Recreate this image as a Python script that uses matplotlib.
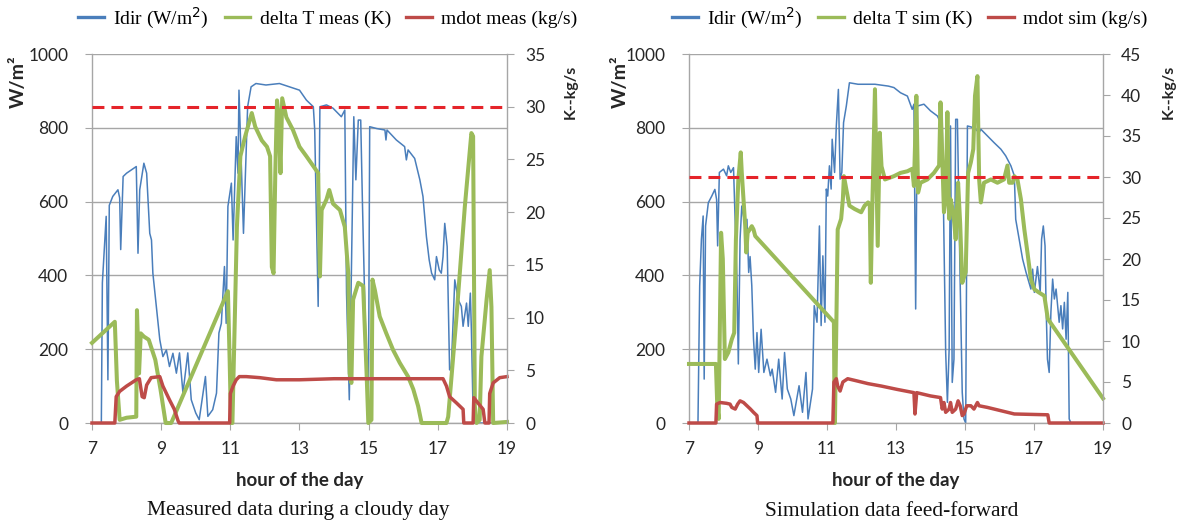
import matplotlib
matplotlib.use('Agg')
import matplotlib.pyplot as plt
from matplotlib.lines import Line2D

# ---- measured (left panel) ----
meas_idir_h = [7.0, 7.27, 7.3, 7.41, 7.46, 7.5, 7.6, 7.75, 7.8, 7.83, 7.9, 8.0, 8.14, 8.28, 8.33, 8.38, 8.5,
               8.58, 8.67, 8.72, 8.76, 8.86, 8.96, 9.05, 9.15, 9.24, 9.34, 9.44, 9.53, 9.63, 9.77, 9.87, 10.0,
               10.1, 10.28, 10.35, 10.49, 10.6, 10.67, 10.74, 10.83, 10.88, 10.93, 11.03, 11.08, 11.17, 11.22,
               11.25, 11.38, 11.5, 11.6, 11.74, 12.03, 12.42, 12.71, 13.0, 13.2, 13.4, 13.44, 13.54, 13.59,
               13.78, 13.97, 14.21, 14.31, 14.36, 14.44, 14.5, 14.57, 14.63, 14.7, 14.77, 14.82, 14.89, 14.99,
               15.03, 15.23, 15.47, 15.5, 15.53, 15.8, 16.04, 16.09, 16.14, 16.33, 16.48, 16.57, 16.67, 16.75,
               16.82, 16.91, 16.96, 17.04, 17.1, 17.15, 17.2, 17.27, 17.34, 17.39, 17.49, 17.59, 17.68, 17.73,
               17.83, 17.88, 17.94, 17.97, 18.02, 18.12, 19.0]
meas_idir_w = [0, 0, 380, 560, 117, 590, 614, 632, 610, 470, 668, 677, 686, 695, 460, 632, 704,
               677, 514, 496, 406, 316, 226, 180, 198, 153, 189, 135, 190, 81, 190, 63, 27,
               9, 126, 18, 36, 81, 244, 270, 424, 270, 587, 650, 496, 776, 677,
               902, 514, 857, 911, 920, 916, 920, 911, 902, 875, 857, 794, 316, 857,
               862, 853, 830, 848, 352, 63, 406, 830, 659, 821, 821, 596, 316, 0,
               803, 798, 794, 767, 794, 767, 749, 713, 740, 717, 659, 614, 505, 442,
               406, 388, 451, 415, 406, 451, 541, 478, 144, 153, 388, 334, 316, 262,
               325, 262, 352, 253, 27, 0, 0]

meas_dt_h = [7.0, 7.66, 7.72, 7.8, 8.0, 8.28, 8.3, 8.36, 8.41, 8.5, 8.64, 8.83, 8.98, 9.13, 9.29, 10.93,
             10.98, 11.02, 11.06, 11.19, 11.29, 11.43, 11.62, 11.72, 11.91, 12.06, 12.15, 12.2, 12.25, 12.3,
             12.35, 12.4, 12.45, 12.5, 12.62, 12.81, 13.0, 13.2, 13.54, 13.59, 13.64, 13.78, 13.86, 13.97,
             14.17, 14.31, 14.41, 14.45, 14.5, 14.55, 14.7, 14.84, 14.94, 14.99, 15.08, 15.11, 15.18, 15.32,
             15.51, 15.71, 15.9, 16.14, 16.29, 16.43, 16.53, 17.25, 17.3, 17.54, 17.78, 17.97, 18.02, 18.07,
             18.12, 18.21, 18.26, 18.41, 18.5, 18.55, 18.6, 19.0]
meas_dt_k = [7.6, 9.6, 4.0, 0.3, 0.5, 0.6, 10.7, 4.7, 8.5, 8.2, 7.9, 6.0, 3.2, 0, 0, 12.5,
             6.0, 0, 0, 18.6, 25.3, 27.2, 29.4, 28.1, 26.8, 26.2, 25.3, 14.8, 14.2, 23.7,
             30.6, 29.0, 23.7, 30.8, 29.0, 27.8, 26.2, 25.3, 23.7, 13.9, 20.2, 21.2, 22.1, 20.8,
             20.2, 18.6, 14.2, 4.7, 3.8, 11.7, 13.3, 13.0, 4.7, 0, 0.3, 13.6, 12.6, 10.1,
             8.5, 6.9, 5.7, 4.4, 3.2, 1.6, 0, 0, 0.6, 10.1, 20.5, 27.5, 27.2, 1.6,
             0, 0.3, 6.3, 11.7, 14.5, 11.0, 0, 0.1]

meas_mdot_h = [7.0, 7.66, 7.7, 7.8, 8.0, 8.28, 8.37, 8.45, 8.51, 8.58, 8.71, 8.96, 9.05, 9.24, 9.38, 9.49,
               9.52, 10.98, 11.0, 11.08, 11.17, 11.26, 11.46, 11.85, 12.33, 13.0, 14.0, 15.0, 16.0, 17.15,
               17.25, 17.34, 17.54, 17.73, 17.75, 18.02, 18.04, 18.16, 18.31, 18.36, 18.48, 18.5, 18.6,
               18.79, 19.0]
meas_mdot_v = [0, 0, 2.5, 3.0, 3.5, 4.1, 4.2, 2.5, 2.4, 3.6, 4.3, 4.4, 3.5, 2.2, 1.3, 0.2,
               0, 0, 2.8, 3.5, 4.1, 4.4, 4.4, 4.3, 4.1, 4.1, 4.2, 4.2, 4.2, 4.2,
               3.5, 2.5, 1.9, 1.3, 0, 0, 2.4, 1.9, 1.3, 0, 0, 2.8, 3.8,
               4.3, 4.4]

# ---- simulation (right panel) ----
sim_idir_h = [7.0, 7.26, 7.31, 7.36, 7.41, 7.44, 7.48, 7.56, 7.66, 7.75, 7.8, 7.83, 7.88, 8.0, 8.09, 8.14,
              8.21, 8.29, 8.39, 8.43, 8.48, 8.53, 8.63, 8.68, 8.73, 8.77, 8.82, 8.87, 8.92, 8.97, 9.02,
              9.09, 9.17, 9.26, 9.36, 9.41, 9.51, 9.6, 9.7, 9.77, 9.85, 9.95, 10.04, 10.19, 10.29, 10.39,
              10.45, 10.58, 10.63, 10.71, 10.78, 10.83, 10.88, 10.94, 10.98, 11.02, 11.07, 11.12, 11.15,
              11.22, 11.27, 11.33, 11.38, 11.43, 11.48, 11.56, 11.65, 11.9, 12.39, 12.78, 12.94, 13.13,
              13.33, 13.47, 13.52, 13.57, 13.62, 13.81, 14.0, 14.2, 14.34, 14.44, 14.49, 14.54, 14.58,
              14.63, 14.68, 14.73, 14.78, 14.86, 14.92, 14.97, 15.02, 15.07, 15.26, 15.41, 15.46, 15.65,
              15.84, 16.04, 16.18, 16.33, 16.43, 16.47, 16.57, 16.67, 16.77, 16.91, 16.96, 17.01, 17.1,
              17.18, 17.22, 17.27, 17.32, 17.35, 17.39, 17.44, 17.49, 17.54, 17.59, 17.64, 17.73, 17.78,
              17.83, 17.88, 17.93, 17.98, 18.02, 18.07, 19.0]
sim_idir_w = [0, 0, 372, 498, 561, 119, 534, 597, 615, 633, 606, 480, 679, 688, 670, 697,
              679, 692, 390, 160, 498, 588, 534, 552, 408, 451, 372, 227, 146, 245, 137,
              254, 137, 173, 128, 146, 83, 173, 65, 191, 92, 65, 20, 101, 29, 137,
              11, 92, 318, 273, 534, 264, 453, 273, 634, 615, 697, 634, 769,
              679, 805, 904, 661, 679, 814, 859, 922, 918, 918, 913, 909, 895,
              886, 850, 864, 309, 859, 864, 846, 832, 805, 191, 56, 200, 805,
              110, 173, 823, 823, 381, 83, 11, 0, 805, 800, 787, 796, 778,
              760, 742, 724, 697, 670, 552, 498, 444, 408, 363, 417, 354, 424,
              354, 498, 534, 480, 318, 173, 137, 300, 390, 336, 363, 273, 318,
              255, 327, 227, 354, 11, 0, 0]

sim_dt_h = [7.0, 7.78, 7.82, 7.86, 7.93, 7.98, 8.04, 8.14, 8.24, 8.31, 8.36, 8.43, 8.5, 8.53, 8.63, 8.66,
            8.7, 8.82, 8.87, 8.92, 11.2, 11.22, 11.23, 11.31, 11.41, 11.46, 11.49, 11.56, 11.65, 11.8,
            11.99, 12.09, 12.19, 12.24, 12.27, 12.31, 12.39, 12.47, 12.53, 12.58, 12.68, 12.94, 13.13,
            13.33, 13.47, 13.52, 13.59, 13.64, 13.71, 13.91, 14.1, 14.25, 14.29, 14.34, 14.39, 14.44,
            14.49, 14.54, 14.58, 14.66, 14.73, 14.8, 14.86, 14.92, 15.02, 15.09, 15.17, 15.24, 15.29,
            15.36, 15.41, 15.46, 15.55, 15.75, 15.94, 16.13, 16.23, 16.28, 16.38, 16.43, 16.52, 16.62,
            16.72, 16.81, 16.91, 17.01, 17.15, 17.3, 17.4, 19.0]
sim_dt_k = [7.2, 7.2, 2.0, 0.5, 23.2, 20.0, 7.8, 8.6, 10.2, 11.0, 22.4, 29.7, 33.0, 30.5, 24.0, 20.8,
            23.2, 24.0, 23.6, 22.8, 12.3, 0, 0, 23.6, 24.9, 27.3, 30.1, 28.5, 26.5, 26.1,
            25.7, 26.5, 26.9, 26.7, 17.1, 25.7, 40.7, 21.6, 35.4, 31.3, 29.7, 30.1, 30.5,
            30.7, 31.0, 28.9, 39.9, 28.1, 29.3, 29.7, 30.5, 31.4, 39.1, 32.6, 25.7, 27.3,
            37.9, 24.9, 27.3, 25.7, 22.4, 29.3, 24.3, 17.1, 18.4, 30.5, 31.8, 33.4, 39.9,
            42.3, 29.7, 26.9, 29.3, 29.7, 29.3, 29.7, 31.4, 29.3, 29.3, 30.1, 29.7, 27.3,
            23.6, 20.8, 17.5, 16.3, 15.9, 15.5, 12.7, 3.0]

sim_mdot_h = [7.0, 7.78, 7.8, 7.9, 8.09, 8.19, 8.24, 8.34, 8.41, 8.48, 8.58, 8.68, 8.78, 8.87, 8.97, 8.99,
              11.17, 11.2, 11.27, 11.31, 11.38, 11.46, 11.6, 11.8, 12.19, 12.58, 13.03, 13.52, 13.55,
              13.6, 14.0, 14.29, 14.34, 14.39, 14.44, 14.54, 14.58, 14.63, 14.73, 14.8, 14.86, 14.92,
              14.97, 15.05, 15.17, 15.26, 15.36, 15.41, 15.65, 16.04, 16.43, 17.4, 17.44, 19.0]
sim_mdot_v = [0, 0, 2.3, 2.5, 2.4, 2.3, 1.9, 1.7, 2.3, 2.7, 2.5, 2.1, 1.7, 1.3, 0.9, 0,
              0, 5.0, 5.4, 4.5, 3.9, 5.0, 5.4, 5.2, 4.8, 4.5, 4.1, 3.7, 1.1,
              3.7, 3.3, 3.1, 1.7, 2.5, 1.3, 1.7, 2.5, 1.3, 1.7, 2.7, 2.1, 0.9,
              1.1, 2.1, 2.1, 1.7, 2.5, 2.1, 1.9, 1.5, 1.1, 1.0, 0, 0]

target_k = 30
hour_ticks = [7, 9, 11, 13, 15, 17, 19]

BLUE = '#4a7ebb'
GREEN = '#9bbb59'
RED = '#be4b48'
DASH = '#e5242a'
GRID = '#a6a6a6'
TXT = '#262626'

plt.rcParams['font.family'] = ['Lato', 'DejaVu Sans']


def draw_panel(fig, rect, idir_h, idir_w, dt_h, dt_k, md_h, md_v, kmax, legend_names, caption,
               legend_x, cap_x, left_lab_x, right_lab_x):
    ax = fig.add_axes(rect)
    ax2 = ax.twinx()

    ax.plot(idir_h, idir_w, color=BLUE, lw=1.1)
    ax2.plot(dt_h, dt_k, color=GREEN, lw=2.9, solid_joinstyle='round', clip_on=False)
    ax2.plot(md_h, md_v, color=RED, lw=2.5, solid_joinstyle='round', clip_on=False)
    ax2.plot([7, 19], [target_k, target_k], color=DASH, lw=2.2, linestyle=(0, (3.9, 2.3)))

    ax.set_xlim(7, 19)
    ax.set_ylim(0, 1000)
    ax2.set_ylim(0, kmax)
    ax.set_xticks(hour_ticks)
    ax.set_yticks(range(0, 1001, 200))
    ax2.set_yticks(range(0, kmax + 1, 5))
    ax.grid(axis='y', color=GRID, lw=1.0)
    ax.set_axisbelow(True)

    for a in (ax, ax2):
        for s in a.spines.values():
            s.set_visible(False)
    ax.spines['left'].set_visible(True)
    ax.spines['bottom'].set_visible(True)
    ax2.spines['right'].set_visible(True)
    for s in (ax.spines['left'], ax.spines['bottom'], ax2.spines['right']):
        s.set_color(GRID)
        s.set_linewidth(1.0)

    ax.tick_params(axis='x', direction='out', length=5, color=GRID, pad=8, labelsize=12.5, labelcolor=TXT)
    ax.tick_params(axis='y', direction='out', length=5, color=GRID, pad=12, labelsize=12.5, labelcolor=TXT)
    ax2.tick_params(axis='y', direction='out', length=5, color=GRID, pad=8, labelsize=12.5, labelcolor=TXT)

    ax.set_xlabel('hour of the day', fontsize=13.5, fontweight='bold', color=TXT, va='center')
    ax.xaxis.set_label_coords(0.5, -0.157)
    ax.set_ylabel('W/m²', fontsize=14, fontweight='bold', color=TXT)
    ax.yaxis.set_label_coords(left_lab_x, 0.924)
    ax2.set_ylabel('K--kg/s', fontsize=11.5, fontweight='bold', color=TXT, rotation=90)
    ax2.yaxis.set_label_coords(right_lab_x, 0.897)

    handles = [Line2D([], [], color=BLUE, lw=2.4),
               Line2D([], [], color=GREEN, lw=2.4),
               Line2D([], [], color=RED, lw=2.4)]
    fig.legend(handles, legend_names, loc='center', bbox_to_anchor=(legend_x, 1 - 18 / 526), ncol=3,
               frameon=False, prop={'family': 'Liberation Serif', 'size': 14}, handlelength=1.3,
               handletextpad=0.5, columnspacing=0.8, borderpad=0, borderaxespad=0)
    fig.text(cap_x, 1 - 511 / 526, caption, ha='center', va='center', family='Liberation Serif',
             fontsize=15.5, color='#111111')
    return ax


def main():
    fig = plt.figure(figsize=(11.91, 5.26), dpi=100)
    draw_panel(fig, [92 / 1191, 103 / 526, 415 / 1191, 369 / 526],
               meas_idir_h, meas_idir_w, meas_dt_h, meas_dt_k, meas_mdot_h, meas_mdot_v, 35,
               ['Idir (W/m$^2$)', 'delta T meas (K)', 'mdot meas (kg/s)'],
               'Measured data during a cloudy day', 328 / 1191, 298 / 1191, -0.157, 1.137)
    draw_panel(fig, [689 / 1191, 103 / 526, 414 / 1191, 369 / 526],
               sim_idir_h, sim_idir_w, sim_dt_h, sim_dt_k, sim_mdot_h, sim_mdot_v, 45,
               ['Idir (W/m$^2$)', 'delta T sim (K)', 'mdot sim (kg/s)'],
               'Simulation data feed-forward', 910 / 1191, 892 / 1191, -0.145, 1.143)
    fig.savefig('out.png', dpi=100)


if __name__ == "__main__":
    main()
